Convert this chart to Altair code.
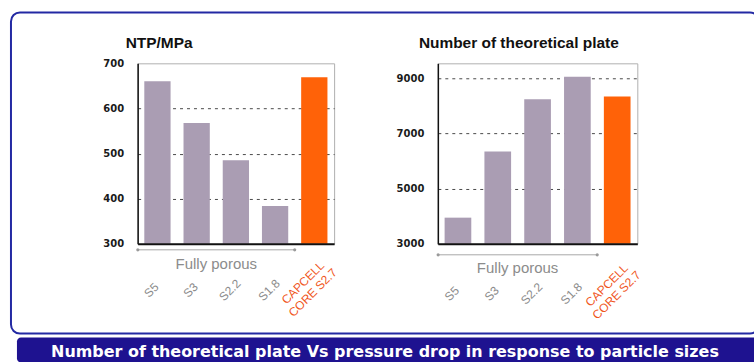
import altair as alt
import pandas as pd

# ---- data -------------------------------------------------------------
categories = ["S5", "S3", "S2.2", "S1.8", "CAPCELL\nCORE S2.7"]
packing = ["Fully porous", "Fully porous", "Fully porous", "Fully porous", "Core-shell"]
ntp_per_mpa = [660, 568, 485, 384, 669]
theoretical_plates = [3950, 6350, 8250, 9060, 8350]

ntp_ticks = [300, 400, 500, 600, 700]
ntp_domain = [300, 700]
plate_ticks = [3000, 5000, 7000, 9000]
plate_domain = [3000, 9550]

panel_titles = ["NTP/MPa", "Number of theoretical plate"]
bracket_caption = "Fully porous"
footer_text = "Number of theoretical plate Vs pressure drop in response to particle sizes"

packing_names = ["Fully porous", "Core-shell"]
packing_colors = ["#aa9db3", "#ff6208"]

SANS = "Liberation Sans"
GAP = 6.5  # half of the inner gap between neighbouring bands
IS_CORE = "indexof(datum.value, 'CAPCELL') >= 0"


def make_panel(values, domain, ticks, title, title_dx,
               label_pad, core_pad, core_offset, bracket_y, caption_y):
    xscale = alt.Scale(type="band", domain=categories,
                       paddingInner=0.33, paddingOuter=0.17)
    df = pd.DataFrame({"sample": categories, "value": values, "packing": packing})
    edge_grid = f"datum.value <= {domain[0]} || datum.value >= {domain[1]}"

    bars = alt.Chart(df).mark_bar().encode(
        x=alt.X(
            "sample:N", scale=xscale, title=None,
            axis=alt.Axis(
                labelAngle=-45, labelAlign="center", labelBaseline="middle",
                labelPadding=alt.condition(IS_CORE, alt.value(core_pad),
                                           alt.value(label_pad)),
                labelOffset=alt.condition(IS_CORE, alt.value(core_offset),
                                          alt.value(-6)),
                ticks=False, tickSize=0, grid=False,
                domainColor="#111111", domainWidth=2,
                labelFont=SANS, labelFontSize=12,
                labelColor=alt.condition(IS_CORE, alt.value("#f0561c"),
                                         alt.value("#8a8a8a")),
                labelExpr="split(datum.label, '\\n')",
                labelLineHeight=14, labelOverlap=False, labelBound=False,
                zindex=1,
            ),
        ),
        y=alt.Y(
            "value:Q", title=None,
            scale=alt.Scale(domain=domain, nice=False, zero=False),
            axis=alt.Axis(
                values=ticks, format="d", ticks=False, tickSize=0, labelPadding=14,
                labelFont="DejaVu Sans", labelFontWeight="bold",
                labelFontSize=10, labelColor="#1a1a1a",
                domainColor="#111111", domainWidth=1.5,
                grid=True, gridColor="#4a4a4a", gridDash=[3, 4],
                gridOpacity=alt.condition(edge_grid, alt.value(0), alt.value(1)),
            ),
        ),
        y2=alt.datum(domain[0]),
        color=alt.Color("packing:N", legend=None,
                        scale=alt.Scale(domain=packing_names, range=packing_colors)),
    )

    guide_df = pd.DataFrame({
        "sample": [categories[0]], "last": [categories[3]],
        "middle": [categories[1]], "caption": [bracket_caption],
    })
    guide = alt.Chart(guide_df)
    span = guide.mark_rule(color="#a8a8a8", strokeWidth=1,
                           xOffset=-GAP, x2Offset=GAP).encode(
        x=alt.X("sample:N", scale=xscale, title=None, bandPosition=0),
        x2=alt.X2("last", bandPosition=1),
        y=alt.value(bracket_y),
    )
    end_a = guide.mark_circle(size=10, color="#9a9a9a", opacity=1,
                              xOffset=-GAP).encode(
        x=alt.X("sample:N", scale=xscale, title=None, bandPosition=0),
        y=alt.value(bracket_y),
    )
    end_b = guide.mark_circle(size=10, color="#9a9a9a", opacity=1,
                              xOffset=GAP).encode(
        x=alt.X("last:N", scale=xscale, title=None, bandPosition=1),
        y=alt.value(bracket_y),
    )
    caption = guide.mark_text(font=SANS, fontSize=15, color="#8c8c8c",
                              baseline="middle", xOffset=GAP).encode(
        x=alt.X("middle:N", scale=xscale, title=None, bandPosition=1),
        y=alt.value(caption_y),
        text="caption:N",
    )
    heading = alt.Chart(pd.DataFrame({"t": [title]})).mark_text(
        align="left", baseline="alphabetic", font=SANS, fontSize=15.5,
        fontWeight="bold", color="#111111",
    ).encode(x=alt.value(title_dx), y=alt.value(-15), text="t:N")

    return [bars, span, end_a, end_b, caption, heading]


left_layers = make_panel(ntp_per_mpa, ntp_domain, ntp_ticks,
                         panel_titles[0], -12, 46, 38.5, -11.5, 187, 201)
right_layers = make_panel(theoretical_plates, plate_domain, plate_ticks,
                          panel_titles[1], -19, 49.5, 41, -10.5, 192, 205)

# page furniture: outer rounded frame and the caption banner
page = alt.Chart(pd.DataFrame({"footer": [footer_text]}))
canvas = page.mark_rect(fillOpacity=0, strokeOpacity=0).encode(
    x=alt.value(-137), x2=alt.value(625), y=alt.value(-62), y2=alt.value(300))
border = page.mark_rect(fillOpacity=0, stroke="#2329a3", strokeWidth=2,
                        cornerRadius=9).encode(
    x=alt.value(-127), x2=alt.value(623), y=alt.value(-51), y2=alt.value(271))
banner = page.mark_rect(fill="#1e1290", cornerRadius=4).encode(
    x=alt.value(-121), x2=alt.value(625), y=alt.value(275), y2=alt.value(300))
banner_text = page.mark_text(font="DejaVu Sans", fontWeight="bold", fontSize=16,
                             color="white", align="center", baseline="middle").encode(
    x=alt.value(248), y=alt.value(289), text="footer:N")

left = alt.layer(canvas, border, banner, banner_text, *left_layers).properties(
    width=197, height=181)
right = alt.layer(*right_layers).properties(width=200, height=181)

chart = (
    alt.hconcat(left, right, spacing=104, bounds="flush")
    .properties(padding={"left": 0, "top": 0, "right": -8, "bottom": 0},
                background="white")
    .configure_view(stroke="#b0b0b0", strokeWidth=1)
)

chart.save("out.html", embed_options={"renderer": "svg", "actions": False})
